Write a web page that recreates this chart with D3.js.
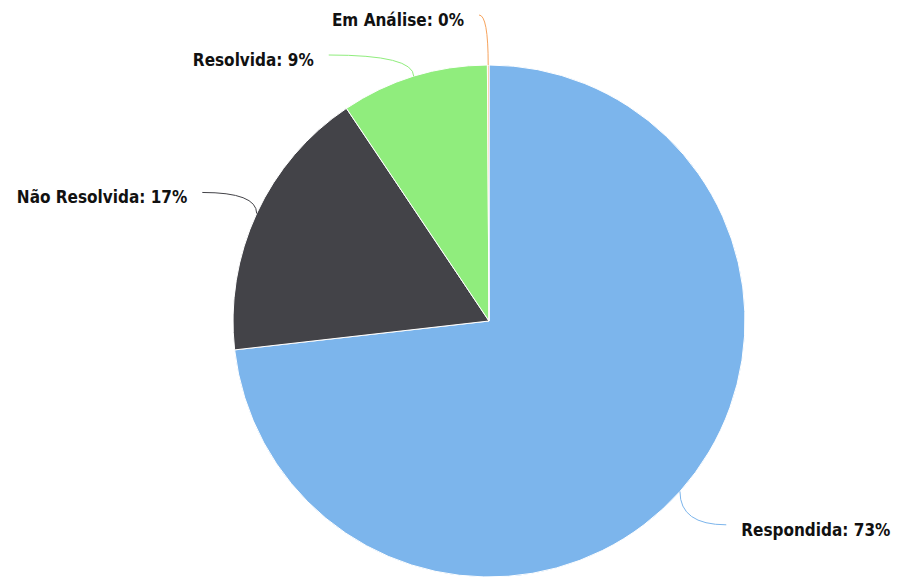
<!DOCTYPE html>
<html>
<head>
<meta charset="utf-8">
<script src="https://cdn.jsdelivr.net/npm/d3@7"></script>
<style>
  html, body { margin: 0; padding: 0; background: #fff; }
  svg { display: block; }
  .lbl { font-family: "DejaVu Sans Condensed", "DejaVu Sans", sans-serif; font-weight: bold; font-size: 17px; fill: #111; }
</style>
</head>
<body>
<div id="chart"></div>
<script>
// values (share of total, %)
const categories = ["Respondida", "Não Resolvida", "Resolvida", "Em Análise"];
const shares = [73.2, 17.4, 9.3, 0.1];
const colors = ["#7cb5ec", "#434348", "#90ed7d", "#f7a35c"];

const W = 900, H = 578;
const cx = 489, cy = 321, r = 256;
const labelDist = 50;     // label ring sits this far outside the pie
const labelGap = 40;      // min vertical spacing between labels on one side
const topLimit = 15;
const connShift = 9;      // labels sit a little further out than the ring
const textPad = 15;

const svg = d3.select("#chart").append("svg").attr("width", W).attr("height", H);

const data = categories.map((name, i) => ({ name, value: shares[i], color: colors[i] }));
const pie = d3.pie().value(d => d.value).sort(null);
const arcs = pie(data);
const arc = d3.arc().innerRadius(0).outerRadius(r);

const g = svg.append("g").attr("transform", `translate(${cx},${cy})`);
g.selectAll("path.slice").data(arcs).join("path")
  .attr("class", "slice")
  .attr("d", arc)
  .attr("fill", d => d.data.color)
  .attr("stroke", "#fff")
  .attr("stroke-width", 1);

// label layout: y from angle on the outer ring, then push apart, then x back on the ring
const R = r + labelDist;
const total = d3.sum(shares);
const labels = arcs.map(a => {
  const mid = (a.startAngle + a.endAngle) / 2;
  return {
    a, mid,
    side: mid < Math.PI ? 1 : -1,
    y: -R * Math.cos(mid),
    tx: r * Math.sin(mid), ty: -r * Math.cos(mid),
    text: `${a.data.name}: ${Math.round(a.data.value / total * 100)}%`
  };
});
[1, -1].forEach(side => {
  const ls = labels.filter(l => l.side === side).sort((p, q) => p.y - q.y);
  let prev = null;
  ls.forEach(l => {
    l.y = Math.max(l.y, topLimit - cy);
    if (prev && l.y < prev.y + labelGap) l.y = prev.y + labelGap;
    prev = l;
  });
});
labels.forEach(l => {
  const dy = Math.min(Math.abs(l.y), R);
  l.x = l.side * (Math.sqrt(R * R - dy * dy) + connShift);
});

g.selectAll("path.conn").data(labels).join("path")
  .attr("class", "conn")
  .attr("fill", "none")
  .attr("stroke", l => l.a.data.color)
  .attr("stroke-width", 1)
  .attr("d", l => `M${l.x},${l.y}Q${l.tx},${l.y} ${l.tx},${l.ty}`);

g.selectAll("text.lbl").data(labels).join("text")
  .attr("class", "lbl")
  .attr("x", l => l.x + l.side * textPad)
  .attr("y", l => l.y + 11)
  .attr("text-anchor", l => l.side > 0 ? "start" : "end")
  .text(l => l.text);
</script>
</body>
</html>
